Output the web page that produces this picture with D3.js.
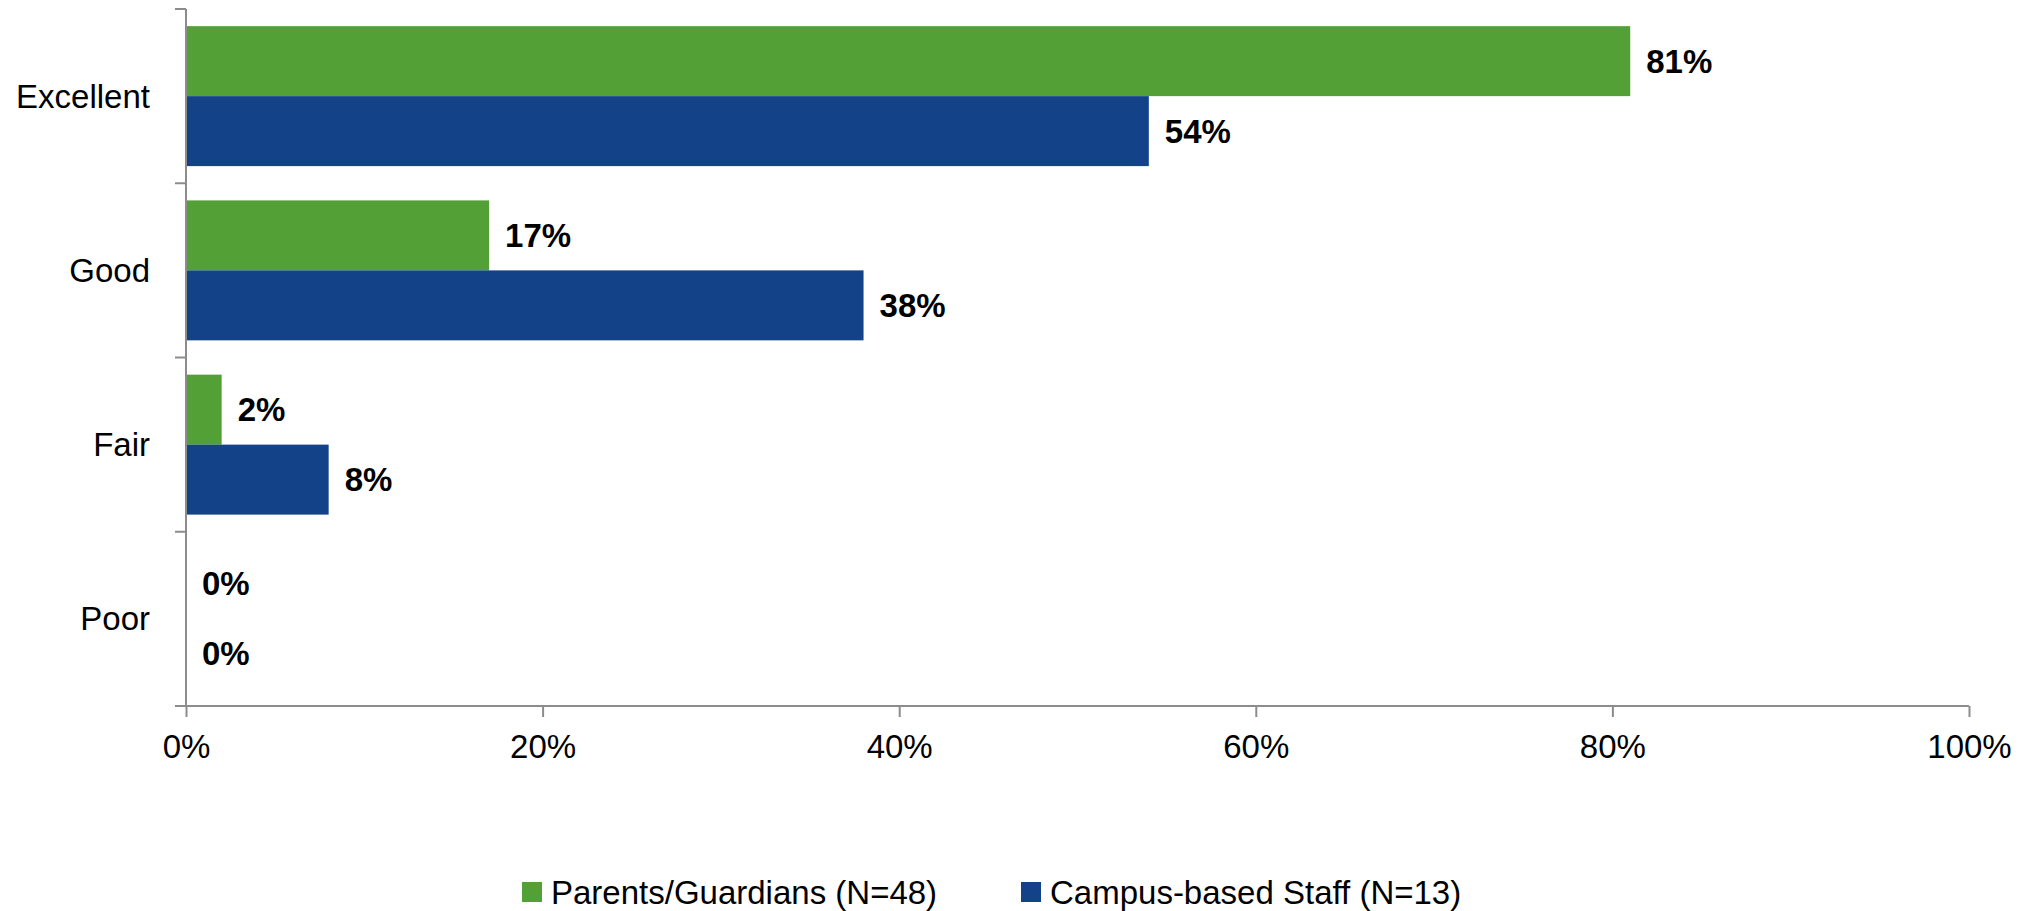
<!DOCTYPE html>
<html>
<head>
<meta charset="utf-8">
<script src="https://cdn.jsdelivr.net/npm/d3@7/dist/d3.min.js"></script>
<style>
  html, body { margin: 0; padding: 0; background: #fff; }
  svg { display: block; font-family: "Liberation Sans", Arial, sans-serif; }
</style>
</head>
<body>
<div id="chart"></div>
<script>
const categories = ["Excellent", "Good", "Fair", "Poor"];
const seriesNames = ["Parents/Guardians (N=48)", "Campus-based Staff (N=13)"];
const parentsValues = [81, 17, 2, 0];
const staffValues = [54, 38, 8, 0];
const xTicks = [0, 20, 40, 60, 80, 100];
const seriesColors = ["#53A037", "#134289"];

const width = 2031, height = 911;
const plotLeft = 186, plotRight = 1969, plotTop = 9, plotBottom = 706;
const axisColor = "#8c8c8c";

const svg = d3.select("#chart").append("svg")
  .attr("width", width)
  .attr("height", height);

const x = d3.scaleLinear().domain([0, 100]).range([plotLeft, plotRight]);
const y0 = d3.scaleBand().domain(categories).range([plotTop, plotBottom]).padding(0);
const y1 = d3.scaleBand().domain(seriesNames).range([0, y0.bandwidth()])
  .paddingInner(0).paddingOuter(0.245);

const rows = categories.map((c, i) => ({
  cat: c,
  vals: [parentsValues[i], staffValues[i]]
}));

// bars
const groups = svg.append("g").selectAll("g")
  .data(rows).enter().append("g")
  .attr("transform", d => `translate(0,${y0(d.cat)})`);

groups.selectAll("rect")
  .data(d => d.vals.map((v, k) => ({ v, k })))
  .enter().append("rect")
  .attr("x", x(0))
  .attr("y", d => y1(seriesNames[d.k]))
  .attr("width", d => x(d.v) - x(0))
  .attr("height", y1.bandwidth())
  .attr("fill", d => seriesColors[d.k]);

groups.selectAll("text")
  .data(d => d.vals.map((v, k) => ({ v, k })))
  .enter().append("text")
  .attr("x", d => x(d.v) + 16)
  .attr("y", d => y1(seriesNames[d.k]) + y1.bandwidth() / 2)
  .attr("dy", "0.35em")
  .attr("font-size", 33)
  .attr("font-weight", "bold")
  .attr("fill", "#000")
  .text(d => d.v + "%");

// x axis
const xAxis = svg.append("g")
  .attr("transform", `translate(0,${plotBottom})`)
  .call(d3.axisBottom(x).tickValues(xTicks).tickFormat(d => d + "%")
    .tickSize(11).tickPadding(18).tickSizeOuter(0));
xAxis.select(".domain").remove();
xAxis.append("line")
  .attr("x1", plotLeft - 11).attr("x2", plotRight)
  .attr("y1", 0).attr("y2", 0)
  .attr("stroke", axisColor).attr("stroke-width", 2);
xAxis.selectAll(".tick line").attr("stroke", axisColor).attr("stroke-width", 2);
xAxis.selectAll(".tick text")
  .attr("font-size", 33)
  .attr("font-family", "Liberation Sans, Arial, sans-serif")
  .attr("fill", "#000");

// y axis
const yAxis = svg.append("g");
yAxis.append("line")
  .attr("x1", plotLeft).attr("x2", plotLeft)
  .attr("y1", plotTop).attr("y2", plotBottom)
  .attr("stroke", axisColor).attr("stroke-width", 2);
const boundaries = categories.map(c => y0(c)).concat([plotBottom]);
yAxis.selectAll("line.tk")
  .data(boundaries).enter().append("line")
  .attr("class", "tk")
  .attr("x1", plotLeft - 11).attr("x2", plotLeft)
  .attr("y1", d => d).attr("y2", d => d)
  .attr("stroke", axisColor).attr("stroke-width", 2);
yAxis.selectAll("text")
  .data(categories).enter().append("text")
  .attr("x", plotLeft - 36)
  .attr("y", d => y0(d) + y0.bandwidth() / 2)
  .attr("dy", "0.35em")
  .attr("text-anchor", "end")
  .attr("font-size", 33)
  .attr("fill", "#000")
  .text(d => d);

// legend
const legendItems = [
  { name: seriesNames[0], color: seriesColors[0], x: 522 },
  { name: seriesNames[1], color: seriesColors[1], x: 1021 }
];
const legend = svg.append("g").attr("transform", "translate(0,892)");
const li = legend.selectAll("g").data(legendItems).enter().append("g")
  .attr("transform", d => `translate(${d.x},0)`);
li.append("rect")
  .attr("x", 0).attr("y", -10)
  .attr("width", 20).attr("height", 20)
  .attr("fill", d => d.color);
li.append("text")
  .attr("x", 29).attr("y", 0)
  .attr("dy", "0.35em")
  .attr("font-size", 33)
  .attr("fill", "#000")
  .text(d => d.name);
</script>
</body>
</html>
